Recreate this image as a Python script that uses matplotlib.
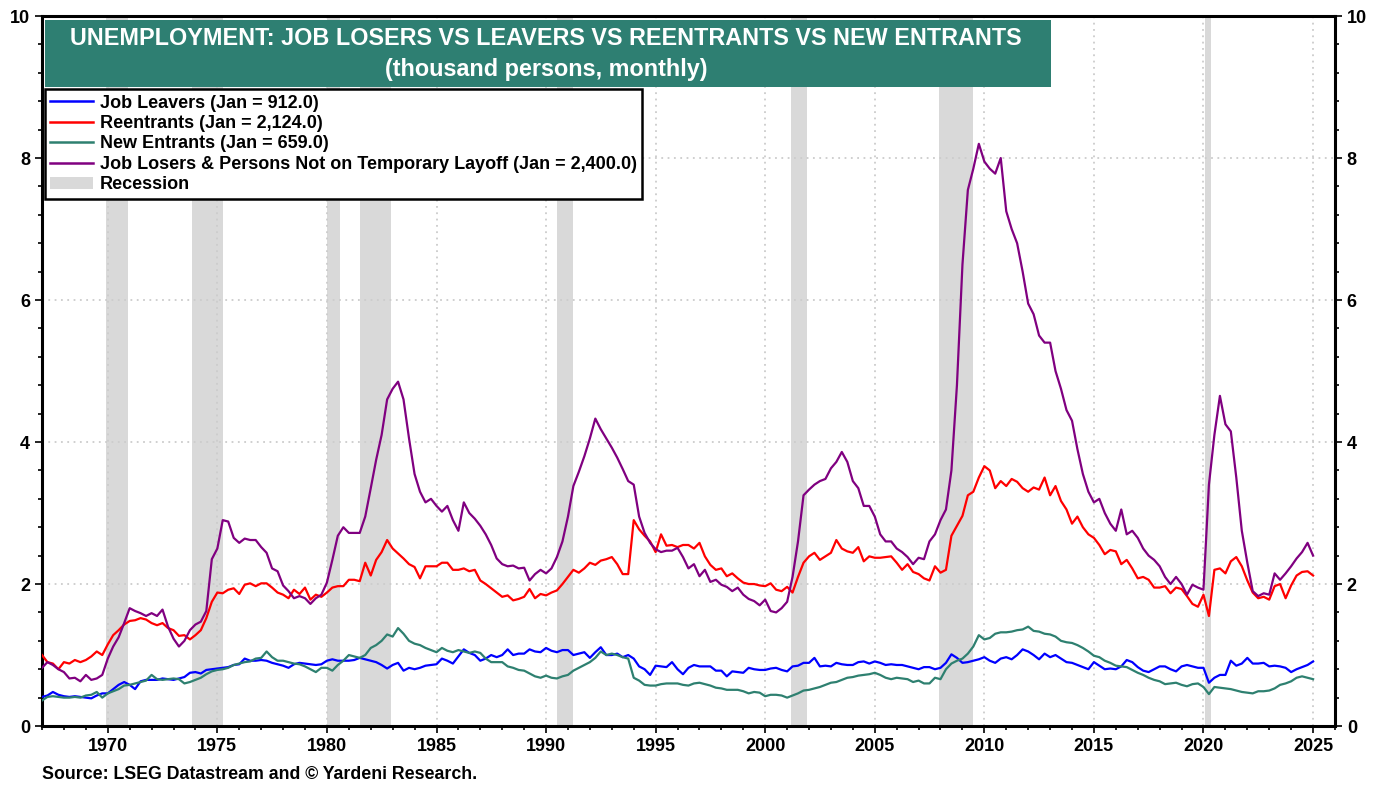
import matplotlib
matplotlib.use("Agg")
import matplotlib.pyplot as plt
import matplotlib.dates as mdates
from matplotlib.ticker import MultipleLocator
from matplotlib.patches import Rectangle, Patch
from matplotlib.lines import Line2D
import pandas as pd

plt.rcParams['font.family'] = ['Liberation Sans', 'DejaVu Sans']
plt.rcParams['font.weight'] = 'bold'
NARROW = ['Liberation Sans Narrow', 'Liberation Sans', 'DejaVu Sans']

# quarterly readings (Jan, Apr, Jul, Oct), millions of persons
dates = pd.date_range("1967-01-01", "2025-01-01", freq="QS")

job_leavers = [
    0.41, 0.43, 0.48, 0.44,  0.42, 0.41, 0.42, 0.41,  0.40, 0.39, 0.43, 0.46,  # 67-69
    0.46, 0.52, 0.58, 0.62,  0.58, 0.52, 0.63, 0.65,  0.65, 0.65, 0.67, 0.66,  # 70-72
    0.65, 0.67, 0.69, 0.75,  0.76, 0.74, 0.79, 0.80,  0.81, 0.82, 0.83, 0.86,  # 73-75
    0.87, 0.95, 0.92, 0.92,  0.93, 0.92, 0.89, 0.87,  0.85, 0.82, 0.87, 0.89,  # 76-78
    0.88, 0.87, 0.86, 0.87,  0.92, 0.94, 0.92, 0.92,  0.92, 0.93, 0.96, 0.94,  # 79-81
    0.92, 0.90, 0.86, 0.81,  0.86, 0.89, 0.78, 0.82,  0.80, 0.82, 0.85, 0.86,  # 82-84
    0.87, 0.95, 0.92, 0.88,  0.98, 1.08, 1.03, 1.00,  0.92, 0.95, 1.00, 0.97,  # 85-87
    1.00, 1.08, 1.00, 1.02,  1.02, 1.08, 1.05, 1.04,  1.10, 1.06, 1.04, 1.07,  # 88-90
    1.07, 1.00, 1.02, 1.04,  0.96, 1.04, 1.11, 1.00,  1.00, 1.02, 0.97, 1.00,  # 91-93
    0.95, 0.84, 0.80, 0.72,  0.85, 0.84, 0.83, 0.90,  0.80, 0.73, 0.82, 0.86,  # 94-96
    0.84, 0.84, 0.84, 0.78,  0.78, 0.70, 0.77, 0.76,  0.75, 0.82, 0.80, 0.79,  # 97-99
    0.79, 0.81, 0.82, 0.79,  0.77, 0.84, 0.85, 0.89,  0.89, 0.96, 0.84, 0.85,  # 00-02
    0.84, 0.89, 0.87, 0.86,  0.86, 0.90, 0.91, 0.88,  0.91, 0.89, 0.86, 0.87,  # 03-05
    0.86, 0.86, 0.84, 0.82,  0.80, 0.83, 0.83, 0.80,  0.82, 0.89, 1.01, 0.96,  # 06-08
    0.89, 0.90, 0.92, 0.94,  0.97, 0.92, 0.89, 0.95,  0.97, 0.94, 1.00, 1.08,  # 09-11
    1.05, 1.00, 0.94, 1.02,  0.97, 1.00, 0.95, 0.90,  0.89, 0.86, 0.83, 0.80,  # 12-14
    0.90, 0.85, 0.80, 0.81,  0.80, 0.84, 0.93, 0.90,  0.83, 0.78, 0.76, 0.80,  # 15-17
    0.84, 0.84, 0.80, 0.77,  0.84, 0.86, 0.84, 0.82,  0.82, 0.61, 0.68, 0.72,  # 18-20
    0.72, 0.92, 0.85, 0.88,  0.96, 0.88, 0.88, 0.89,  0.84, 0.85, 0.84, 0.82,  # 21-23
    0.76, 0.80, 0.83, 0.86,  0.91,                                              # 24-25
]

reentrants = [
    1.00, 0.90, 0.88, 0.80,  0.90, 0.88, 0.93, 0.90,  0.93, 0.98, 1.05, 1.00,
    1.15, 1.28, 1.35, 1.43,  1.48, 1.49, 1.52, 1.50,  1.45, 1.42, 1.45, 1.38,
    1.35, 1.27, 1.28, 1.22,  1.28, 1.35, 1.52, 1.75,  1.88, 1.87, 1.92, 1.94,
    1.86, 1.99, 2.01, 1.97,  2.01, 2.01, 1.95, 1.88,  1.85, 1.80, 1.92, 1.86,
    1.95, 1.78, 1.85, 1.82,  1.88, 1.95, 1.97, 1.97,  2.06, 2.06, 2.04, 2.30,
    2.12, 2.34, 2.45, 2.62,  2.50, 2.43, 2.36, 2.28,  2.24, 2.08, 2.25, 2.25,
    2.25, 2.30, 2.30, 2.20,  2.20, 2.22, 2.18, 2.20,  2.05, 2.00, 1.94, 1.88,
    1.82, 1.84, 1.77, 1.79,  1.82, 1.93, 1.80, 1.86,  1.84, 1.88, 1.91, 2.00,
    2.10, 2.20, 2.16, 2.22,  2.30, 2.27, 2.33, 2.35,  2.38, 2.28, 2.14, 2.14,
    2.90, 2.77, 2.68, 2.60,  2.45, 2.70, 2.54, 2.55,  2.52, 2.55, 2.55, 2.50,
    2.58, 2.39, 2.27, 2.20,  2.22, 2.11, 2.15, 2.08,  2.02, 2.00, 2.00, 1.98,
    1.97, 2.01, 1.92, 1.90,  1.96, 1.88, 2.10, 2.30,  2.39, 2.44, 2.34, 2.39,
    2.44, 2.62, 2.50, 2.46,  2.44, 2.52, 2.32, 2.39,  2.37, 2.37, 2.38, 2.39,
    2.30, 2.20, 2.28, 2.17,  2.14, 2.08, 2.05, 2.25,  2.16, 2.20, 2.68, 2.82,
    2.96, 3.25, 3.30, 3.50,  3.66, 3.60, 3.35, 3.45,  3.38, 3.48, 3.44, 3.35,
    3.30, 3.36, 3.33, 3.50,  3.25, 3.38, 3.17, 3.05,  2.85, 2.95, 2.80, 2.70,
    2.65, 2.55, 2.42, 2.48,  2.46, 2.28, 2.34, 2.22,  2.08, 2.10, 2.06, 1.95,
    1.95, 1.97, 1.87, 1.95,  1.93, 1.83, 1.72, 1.68,  1.85, 1.55, 2.20, 2.22,
    2.15, 2.32, 2.38, 2.25,  2.05, 1.88, 1.80, 1.82,  1.78, 1.97, 2.00, 1.80,
    1.98, 2.12, 2.17, 2.18,  2.12,
]

new_entrants = [
    0.36, 0.41, 0.42, 0.41,  0.40, 0.40, 0.41, 0.40,  0.43, 0.44, 0.48, 0.40,
    0.46, 0.49, 0.52, 0.57,  0.58, 0.60, 0.62, 0.64,  0.72, 0.66, 0.65, 0.66,
    0.67, 0.66, 0.60, 0.62,  0.65, 0.68, 0.73, 0.77,  0.79, 0.80, 0.82, 0.86,
    0.88, 0.90, 0.91, 0.95,  0.96, 1.05, 0.97, 0.92,  0.92, 0.90, 0.88, 0.87,
    0.84, 0.80, 0.76, 0.82,  0.82, 0.78, 0.86, 0.92,  1.00, 0.98, 0.96, 1.00,
    1.10, 1.14, 1.20, 1.29,  1.26, 1.38, 1.30, 1.20,  1.16, 1.14, 1.10, 1.07,
    1.04, 1.10, 1.06, 1.04,  1.07, 1.05, 1.03, 1.05,  1.03, 0.95, 0.90, 0.90,
    0.90, 0.84, 0.82, 0.79,  0.78, 0.74, 0.70, 0.68,  0.71, 0.68, 0.67, 0.70,
    0.72, 0.78, 0.82, 0.86,  0.90, 0.96, 1.05, 1.00,  1.02, 1.00, 0.97, 0.95,
    0.68, 0.64, 0.58, 0.57,  0.57, 0.59, 0.60, 0.60,  0.60, 0.58, 0.57, 0.60,
    0.61, 0.59, 0.57, 0.54,  0.53, 0.51, 0.51, 0.51,  0.49, 0.46, 0.48, 0.47,
    0.42, 0.44, 0.44, 0.43,  0.40, 0.43, 0.46, 0.50,  0.51, 0.53, 0.55, 0.58,
    0.61, 0.62, 0.65, 0.68,  0.69, 0.71, 0.72, 0.73,  0.75, 0.72, 0.68, 0.66,
    0.68, 0.67, 0.66, 0.62,  0.64, 0.60, 0.60, 0.68,  0.66, 0.80, 0.88, 0.92,
    0.95, 1.02, 1.12, 1.28,  1.22, 1.24, 1.30, 1.32,  1.32, 1.33, 1.35, 1.36,
    1.40, 1.34, 1.33, 1.30,  1.29, 1.26, 1.20, 1.18,  1.17, 1.14, 1.10, 1.05,
    0.99, 0.97, 0.92, 0.89,  0.85, 0.84, 0.83, 0.79,  0.75, 0.72, 0.68, 0.65,
    0.63, 0.59, 0.60, 0.61,  0.58, 0.56, 0.59, 0.60,  0.55, 0.45, 0.55, 0.54,
    0.53, 0.52, 0.50, 0.48,  0.47, 0.46, 0.49, 0.49,  0.50, 0.53, 0.58, 0.60,
    0.63, 0.68, 0.70, 0.68,  0.66,
]

job_losers = [
    0.82, 0.90, 0.86, 0.80,  0.76, 0.67, 0.68, 0.63,  0.72, 0.65, 0.67, 0.72,
    0.95, 1.12, 1.25, 1.45,  1.66, 1.62, 1.59, 1.55,  1.59, 1.55, 1.64, 1.40,
    1.23, 1.12, 1.20, 1.35,  1.43, 1.47, 1.62, 2.35,  2.50, 2.90, 2.88, 2.65,
    2.58, 2.64, 2.62, 2.62,  2.52, 2.44, 2.22, 2.18,  1.98, 1.90, 1.80, 1.83,
    1.80, 1.72, 1.80, 1.85,  2.02, 2.34, 2.68, 2.80,  2.72, 2.72, 2.72, 2.95,
    3.35, 3.75, 4.10, 4.60,  4.75, 4.85, 4.60, 4.05,  3.55, 3.30, 3.15, 3.20,
    3.10, 3.02, 3.10, 2.90,  2.75, 3.15, 3.00, 2.92,  2.82, 2.70, 2.55, 2.36,
    2.28, 2.25, 2.26, 2.22,  2.23, 2.05, 2.14, 2.20,  2.15, 2.22, 2.38, 2.60,
    2.95, 3.38, 3.58, 3.80,  4.05, 4.33, 4.18, 4.05,  3.92, 3.78, 3.62, 3.45,
    3.40, 2.95, 2.72, 2.58,  2.49, 2.45, 2.47, 2.47,  2.51, 2.38, 2.22, 2.28,
    2.11, 2.20, 2.03, 2.06,  1.99, 1.96, 1.90, 1.95,  1.85, 1.79, 1.76, 1.70,
    1.78, 1.62, 1.60, 1.66,  1.75, 2.10, 2.60, 3.25,  3.33, 3.40, 3.45, 3.48,
    3.63, 3.72, 3.86, 3.72,  3.45, 3.35, 3.10, 3.10,  2.95, 2.70, 2.60, 2.60,
    2.50, 2.45, 2.38, 2.28,  2.37, 2.35, 2.60, 2.70,  2.90, 3.05, 3.60, 4.80,
    6.50, 7.55, 7.85, 8.20,  7.95, 7.85, 7.78, 8.00,  7.25, 7.00, 6.80, 6.40,
    5.95, 5.80, 5.50, 5.40,  5.40, 5.00, 4.75, 4.45,  4.30, 3.90, 3.55, 3.30,
    3.15, 3.20, 3.00, 2.85,  2.75, 3.05, 2.70, 2.75,  2.65, 2.50, 2.40, 2.34,
    2.25, 2.10, 2.00, 2.10,  2.00, 1.85, 1.99, 1.95,  1.92, 3.40, 4.10, 4.65,
    4.25, 4.15, 3.50, 2.75,  2.30, 1.90, 1.83, 1.87,  1.85, 2.15, 2.06, 2.15,
    2.25, 2.36, 2.45, 2.58,  2.40,
]

recessions = [("1969-12-01", "1970-11-30"), ("1973-11-01", "1975-03-31"),
              ("1980-01-01", "1980-07-31"), ("1981-07-01", "1982-11-30"),
              ("1990-07-01", "1991-03-31"), ("2001-03-01", "2001-11-30"),
              ("2007-12-01", "2009-06-30"), ("2020-02-01", "2020-04-30")]

labels = ["Job Leavers (Jan = 912.0)", "Reentrants (Jan = 2,124.0)",
          "New Entrants (Jan = 659.0)",
          "Job Losers & Persons Not on Temporary Layoff (Jan = 2,400.0)"]
colors = ["#0000ff", "#ff0000", "#2e8070", "#800080"]

fig = plt.figure(figsize=(13.87, 7.89), dpi=100)
ax = fig.add_axes([0.0303, 0.0798, 0.9322, 0.8999])

for start, end in recessions:
    ax.axvspan(pd.Timestamp(start), pd.Timestamp(end), color="#d9d9d9", lw=0, zorder=0)

for series, c in zip([job_leavers, reentrants, new_entrants, job_losers], colors):
    ax.plot(dates, series, color=c, lw=1.6, zorder=3)

ax.set_xlim(pd.Timestamp("1967-01-01"), pd.Timestamp("2026-01-01"))
ax.set_ylim(0, 10)
ax.xaxis.set_major_locator(mdates.YearLocator(5))
ax.xaxis.set_minor_locator(mdates.YearLocator(1))
ax.xaxis.set_major_formatter(mdates.DateFormatter("%Y"))
ax.yaxis.set_major_locator(MultipleLocator(2))
ax.yaxis.set_minor_locator(MultipleLocator(0.4))
ax.grid(True, which="major", color="#cccccc", ls=(0, (1, 2.5)), lw=1.3, zorder=1)

for s in ax.spines.values():
    s.set_linewidth(2.2)
ax.tick_params(axis="both", which="both", right=True, labelright=True, width=1.2,
               labelsize=13, direction="out")
ax.tick_params(which="major", length=5)
ax.tick_params(which="minor", length=3)
for t in ax.yaxis.get_major_ticks():
    t.label1.set_family(NARROW)
    t.label2.set_family(NARROW)
for t in ax.xaxis.get_major_ticks():
    t.label1.set_family(NARROW)

# title box
ax.add_patch(Rectangle((0.002, 0.9), 0.778, 0.094, transform=ax.transAxes,
                       facecolor="#2e7f72", edgecolor="none", zorder=5))
ax.text(0.39, 0.969, "UNEMPLOYMENT: JOB LOSERS VS LEAVERS VS REENTRANTS VS NEW ENTRANTS",
        transform=ax.transAxes, ha="center", va="center", color="white",
        fontsize=16.8, fontweight="bold", zorder=6)
ax.text(0.39, 0.924, "(thousand persons, monthly)", transform=ax.transAxes,
        ha="center", va="center", color="white", fontsize=16.8, fontweight="bold", zorder=6)

handles = [Line2D([], [], color=c, lw=1.8) for c in colors]
handles.append(Patch(facecolor="#d9d9d9", edgecolor="none"))
leg = ax.legend(handles, labels + ["Recession"], loc="upper left",
                bbox_to_anchor=(0.002, 0.897), fontsize=13, frameon=True,
                fancybox=False, framealpha=1, edgecolor="black", borderpad=0.3,
                labelspacing=0.19, handlelength=2.4, handletextpad=0.35,
                borderaxespad=0)
leg.get_frame().set_linewidth(1.8)
leg.set_zorder(7)

fig.text(0.030, 0.008, "Source: LSEG Datastream and \u00a9 Yardeni Research.",
         fontsize=12.8, fontweight="bold", ha="left", va="bottom")

fig.savefig("out.png", dpi=100)
